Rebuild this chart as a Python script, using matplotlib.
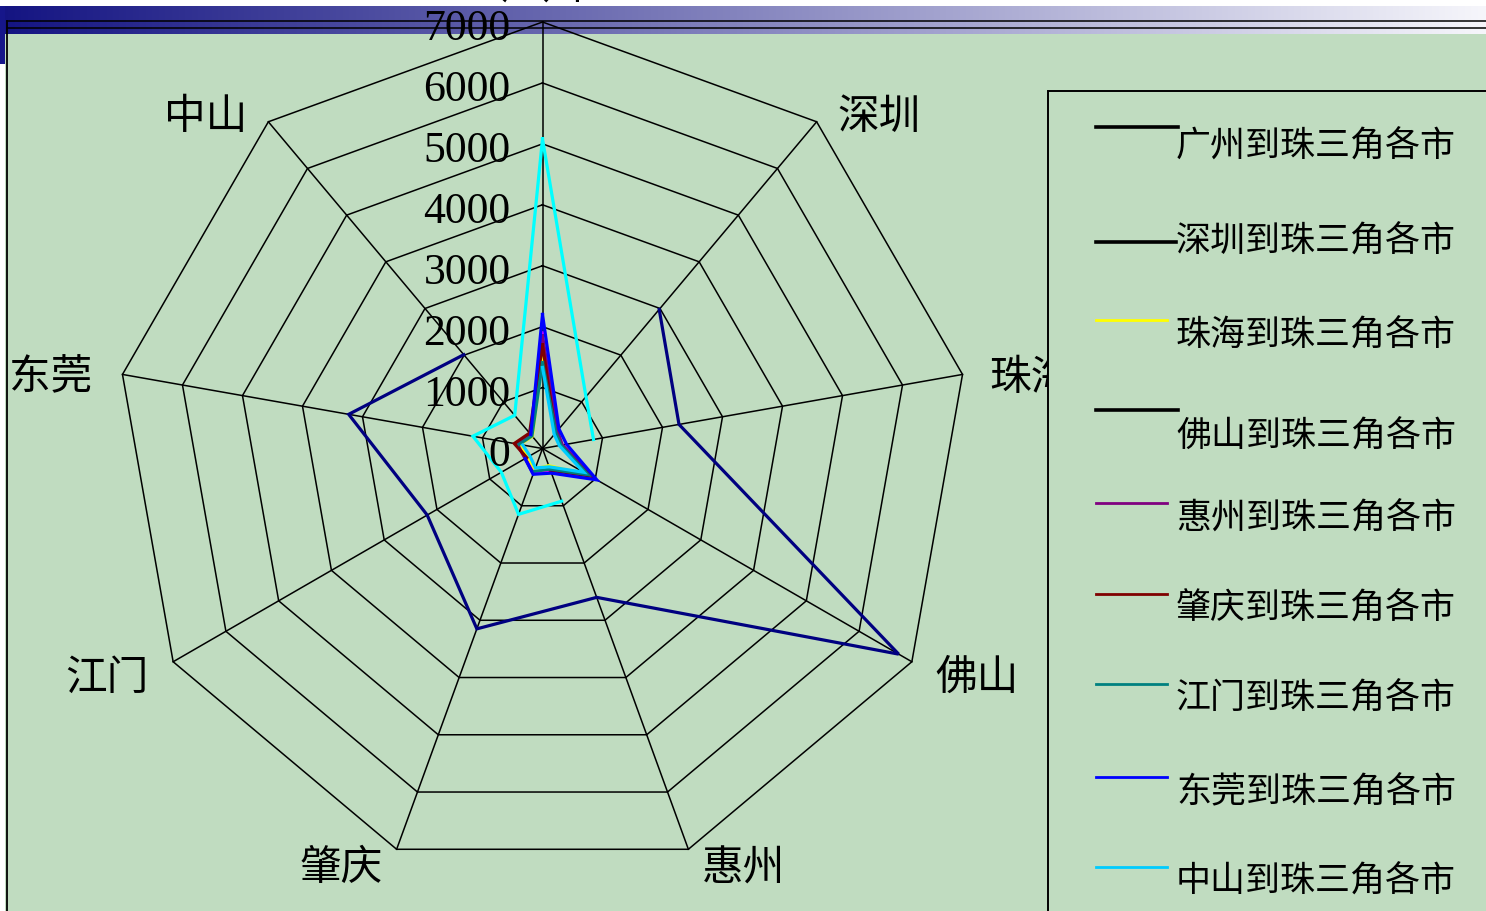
import numpy as np
import matplotlib
matplotlib.use("Agg")
import matplotlib.pyplot as plt
from matplotlib.lines import Line2D
from matplotlib.patches import Rectangle
from matplotlib.transforms import offset_copy

plt.rcParams['font.family'] = ['Noto Sans CJK SC', 'DejaVu Sans']

# ---------------- data ----------------
cities = ["广州", "深圳", "珠海", "佛山", "惠州", "肇庆", "江门", "东莞", "中山"]
series_names = ["广州到珠三角各市", "深圳到珠三角各市", "珠海到珠三角各市",
                "佛山到珠三角各市", "惠州到珠三角各市", "肇庆到珠三角各市",
                "江门到珠三角各市", "东莞到珠三角各市", "中山到珠三角各市"]
nan = np.nan
gz = [nan, 2980, 2275, 6750, 2600, 3150, 2185, 3230, 2010]
sz = [1900, nan, 330, 960, 400, 420, 320, 430, 300]
zh = [1520, 320, nan, 880, 300, 360, 280, 380, 260]
fs = [5080, 1110, 850, nan, 920, 1150, 780, 1160, 710]
hz = [1850, 380, 330, 980, nan, 440, 330, 420, 300]
zq = [1700, 330, 300, 900, 380, nan, 300, 470, 330]
jm = [1410, 340, 310, 860, 360, 400, nan, 390, 270]
dg = [2200, 420, 400, 1030, 430, 450, 330, nan, 300]
zs = [1330, 300, 280, 780, 320, 340, 240, 330, nan]
all_series = [gz, sz, zh, fs, hz, zq, jm, dg, zs]
line_colors = ["#000080", "#FF00FF", "#FFFF00", "#00FFFF", "#800080",
               "#800000", "#008080", "#0000FF", "#00CCFF"]
legend_colors = ["#000000", "#000000", "#FFFF00", "#000000", "#800080",
                 "#800000", "#008080", "#0000FF", "#00CCFF"]
ticks = [0, 1000, 2000, 3000, 4000, 5000, 6000, 7000]
rmax = 7000

# ---------------- figure ----------------
W, H = 1486, 912
fig = plt.figure(figsize=(W / 100, H / 100), dpi=100, facecolor="white")

def fx(x):
    return x / W

def fy(y):
    return 1 - y / H

GREEN = "#C0DCC0"

# header gradient bar
gax = fig.add_axes([0, fy(35), 1, 28 / H], zorder=0)
grad = np.linspace(0, 1, 512)
c0 = np.array([20, 20, 130]) / 255
c1 = np.array([246, 246, 251]) / 255
img = (c0[None, :] * (1 - grad[:, None]) + c1[None, :] * grad[:, None])[None, :, :]
gax.imshow(img, aspect="auto", extent=[0, 1, 0, 1])
gax.set_axis_off()

# background patches
fig.patches.append(Rectangle((0, fy(65)), fx(5), 58 / H, transform=fig.transFigure,
                             facecolor="#16168a", edgecolor="none", zorder=0))
fig.patches.append(Rectangle((fx(5), 0), 1 - fx(5), fy(35), transform=fig.transFigure,
                             facecolor=GREEN, edgecolor="none", zorder=0))
for yy in (22, 28.5):
    fig.lines.append(Line2D([fx(7.5), 1], [fy(yy), fy(yy)], transform=fig.transFigure,
                            color="black", lw=1.1, zorder=1))
fig.lines.append(Line2D([fx(7.5), fx(7.5)], [fy(22), 0], transform=fig.transFigure,
                        color="black", lw=1.3, zorder=1))

# ---------------- radar ----------------
cx, cy, R = 542.5, 449.5, 426.5
ax = fig.add_axes([fx(cx - R), fy(cy + R), 2 * R / W, 2 * R / H],
                  projection="polar", zorder=2)
ax.set_facecolor("none")
ax.set_theta_offset(np.pi / 2)
ax.set_theta_direction(-1)
ax.set_ylim(0, rmax)
ax.grid(False)
ax.set_xticks([])
ax.set_yticks([])
ax.spines["polar"].set_visible(False)

n = len(cities)
theta = np.linspace(0, 2 * np.pi, n, endpoint=False)
theta_c = np.concatenate([theta, theta[:1]])

for t in ticks[1:]:
    ax.plot(theta_c, [t] * (n + 1), color="black", lw=1.1, clip_on=False, zorder=2)
for t in theta:
    ax.plot([t, t], [0, rmax], color="black", lw=1.1, clip_on=False, zorder=2)

for vals, col in zip(all_series, line_colors):
    v = np.concatenate([vals, vals[:1]])
    ax.plot(theta_c, v, color=col, lw=2.3, clip_on=False, zorder=3,
            solid_joinstyle="miter")

# radial tick labels
tr = offset_copy(ax.transData, fig=fig, x=-32, y=-17, units="dots")
for t in ticks:
    ax.text(0, t, str(t), transform=tr, ha="right", va="baseline",
            fontsize=31.5, family="Liberation Serif", color="black", zorder=5,
            clip_on=False)

# category labels
label_pos = {"广州": (542, -13), "深圳": (879, 118), "珠海": (1031, 378),
             "佛山": (977, 678), "惠州": (743, 869), "肇庆": (341, 869),
             "江门": (107, 678), "东莞": (51, 378), "中山": (206, 118)}
for c in cities:
    x, y = label_pos[c]
    fig.text(fx(x), fy(y), c, ha="center", va="center", fontsize=30,
             color="black", zorder=4)

# ---------------- legend ----------------
fig.patches.append(Rectangle((fx(1048), -0.01), 1.01 - fx(1048), fy(92) + 0.01,
                             transform=fig.transFigure, facecolor=GREEN,
                             edgecolor="black", lw=1.4, zorder=6))
leg_line_y = [128, 243, 321, 411, 504, 595, 685, 778, 868]
leg_text_y = [147, 242, 336, 437, 519, 609, 699, 792, 882]
leg_line_end = [1178, 1176, 1167, 1178, 1167, 1167, 1167, 1167, 1167]
for name, col, ly, ty, le in zip(series_names, legend_colors, leg_line_y,
                                 leg_text_y, leg_line_end):
    fig.lines.append(Line2D([fx(1096), fx(le)], [fy(ly), fy(ly)],
                            transform=fig.transFigure, color=col,
                            lw=2.6 if col == "#000000" else 2.0, zorder=7))
    fig.text(fx(1176), fy(ty), name, ha="left", va="center", fontsize=25.2,
             color="black", zorder=7)

fig.savefig("out.png", dpi=100, facecolor="white")
